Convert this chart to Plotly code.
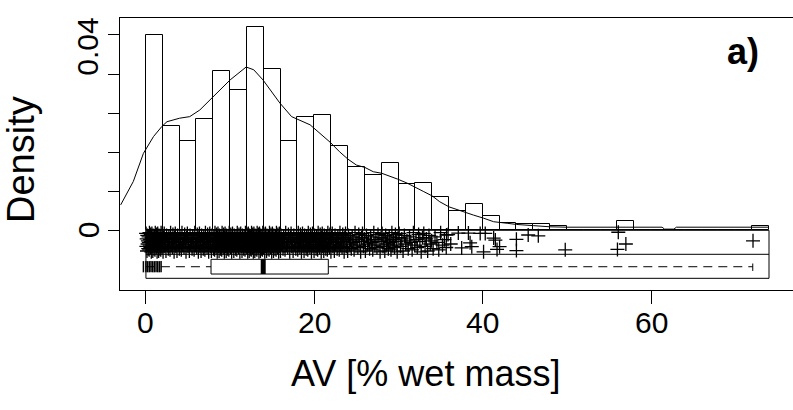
import plotly.graph_objects as go

# ---------------- data ----------------
bin_left = list(range(0, 74, 2))          # histogram bins of width 2 (0..74)
hist_density = [0.0501, 0.0266, 0.0228, 0.0285, 0.0408, 0.0358, 0.0520, 0.0414,
                0.0228, 0.0290, 0.0296, 0.0216, 0.0163, 0.0142, 0.0172, 0.0118,
                0.0122, 0.0086, 0.0050, 0.0067, 0.0037, 0.0019, 0.0017, 0.0017,
                0.0012, 0.0, 0.0, 0.0, 0.0025, 0.0, 0.0, 0.0, 0.0, 0.0, 0.0, 0.0,
                0.0012]

dens_x = [-3.0, -1.5, -0.3, 0.9, 1.9, 2.5, 4.0, 5.2, 6.4, 8.0, 10.0, 11.9, 12.8,
          13.9, 15.9, 17.3, 19.5, 21.9, 23.0, 24.0, 25.0, 26.0, 27.0, 28.0, 29.0,
          29.9, 31.0, 31.9, 33.0, 34.0, 34.9, 36.0, 37.7, 38.9, 40.1, 41.3, 42.9,
          44.0, 46.0, 48.0, 50.0, 52.0, 61.3, 61.6, 62.7, 63.0, 74.0]
dens_y = [0.0065, 0.0125, 0.0197, 0.0240, 0.0266, 0.0278, 0.0287, 0.0291, 0.0308,
          0.0343, 0.0385, 0.0418, 0.0411, 0.0385, 0.0326, 0.0291, 0.0270, 0.0225,
          0.0201, 0.0182, 0.0167, 0.0161, 0.0150, 0.0146, 0.0139, 0.0131, 0.0121,
          0.0112, 0.0099, 0.0088, 0.0073, 0.0060, 0.0047, 0.0039, 0.0031, 0.0022,
          0.0018, 0.0015, 0.0012, 0.0009, 0.0008, 0.0008, 0.0008, 0.0003, 0.0003,
          0.0008, 0.0008]

# rug: observations per 2-unit bin in the dense part (0..36), from the histogram
rug_bin_counts = [55, 29, 25, 31, 45, 39, 57, 46, 25, 32, 33, 24, 18, 16, 19, 13, 13, 9]
rug_jitter = [-0.0008, -0.0041, -0.0022, -0.0053, -0.0013, -0.0035, -0.0027,
              -0.0047, -0.0017, -0.0031, -0.0050, -0.0006, -0.0038, -0.0024,
              -0.0044, -0.0011, -0.0029, -0.0055, -0.0019]
# sparse rug points read individually
rug_sparse_x = [35.7, 36.2, 37.1, 37.5, 38.3, 38.5, 38.7, 39.7, 40.1, 40.3, 41.3,
                41.5, 41.7, 42.0, 44.0, 44.0, 45.4, 46.6, 49.8, 56.1, 56.0, 57.0, 72.1]
rug_sparse_y = [-0.0012, -0.0035, -0.0007, -0.0045, -0.0007, -0.0032, -0.0042,
                -0.0008, -0.0055, -0.0008, -0.0020, -0.0025, -0.0049, -0.0042,
                -0.0023, -0.0052, -0.0012, -0.0014, -0.0050, -0.0005, -0.0049,
                -0.0035, -0.0027]

box_names = ["min", "q1", "median", "q3", "max"]
box_stats = [0.0, 7.73, 13.93, 21.66, 72.07]
low_cluster_x = [-0.3, 0.0, 0.2, 0.4, 0.6, 0.8, 1.0, 1.2, 1.4, 1.6, 1.8]

x_tickvals = [0, 20, 40, 60]
x_ticktext = ["0", "20", "40", "60"]
y_tickvals = [0, 0.01, 0.02, 0.03, 0.04, 0.05]
y_labels = ["0", "0.04"]
y_label_pos = [0.0, 0.047]

# ---------------- geometry ----------------
XR = [-3.08, 76.85]
YR = [-0.01528, 0.05435]
RUG_TOP, RUG_MID, RUG_BOT = 0.0, -0.00614, -0.01229
BOX_TOP, BOX_BOT, BOX_MID = -0.00742, -0.01119, -0.00932

stats = dict(zip(box_names, box_stats))
FONT = "Liberation Sans, Arial, sans-serif"

fig = go.Figure()

# histogram bars
fig.add_trace(go.Bar(
    x=[b + 1 for b in bin_left], y=hist_density, width=2,
    marker=dict(color="rgba(0,0,0,0)", line=dict(color="black", width=1)),
    hoverinfo="skip", showlegend=False))

# density curve
fig.add_trace(go.Scatter(x=dens_x, y=dens_y, mode="lines",
                         line=dict(color="black", width=1), showlegend=False))

# rug points
rx, ry = [], []
k = 0
for b, c in enumerate(rug_bin_counts):
    for j in range(c):
        rx.append(2 * b + (j + 0.5) * 2.0 / c)
        ry.append(rug_jitter[k % len(rug_jitter)])
        k += 1
rx += rug_sparse_x
ry += rug_sparse_y
fig.add_trace(go.Scatter(x=rx, y=ry, mode="markers",
                         marker=dict(symbol="cross-thin", size=10, color="black",
                                     line=dict(color="black", width=1.3)),
                         showlegend=False))

# rug / boxplot panels
fig.add_shape(type="rect", x0=0, x1=74, y0=RUG_BOT, y1=RUG_TOP,
              line=dict(color="black", width=1), layer="above")
fig.add_shape(type="line", x0=0, x1=74, y0=RUG_MID, y1=RUG_MID,
              line=dict(color="black", width=1))

# boxplot
fig.add_trace(go.Scatter(x=[stats["min"], stats["q1"]], y=[BOX_MID, BOX_MID], mode="lines",
                         line=dict(color="black", width=1, dash="9px,6px"), showlegend=False))
fig.add_trace(go.Scatter(x=[stats["q3"], stats["max"]], y=[BOX_MID, BOX_MID], mode="lines",
                         line=dict(color="black", width=1, dash="9px,6px"), showlegend=False))
fig.add_trace(go.Scatter(x=[stats["q1"], stats["q3"], stats["q3"], stats["q1"], stats["q1"]],
                         y=[BOX_TOP, BOX_TOP, BOX_BOT, BOX_BOT, BOX_TOP], mode="lines",
                         fill="toself", fillcolor="white",
                         line=dict(color="black", width=1), showlegend=False))
fig.add_trace(go.Scatter(x=[stats["median"], stats["median"]], y=[BOX_TOP, BOX_BOT],
                         mode="lines", line=dict(color="black", width=5), showlegend=False))
fig.add_trace(go.Scatter(x=[stats["max"], stats["max"]], y=[-0.0085, -0.0104],
                         mode="lines", line=dict(color="black", width=1), showlegend=False))
fig.add_trace(go.Scatter(x=low_cluster_x, y=[BOX_MID] * len(low_cluster_x), mode="markers",
                         marker=dict(symbol="line-ns", size=8, color="black",
                                     line=dict(color="black", width=1.5)),
                         showlegend=False))

W, H = 793, 410
L, R, T, B = 120, 0, 18, 120
pw, ph = W - L - R, H - T - B


def px_x(p):
    return (p - L) / pw


def px_y(p):
    return (H - B - p) / ph


ann = []
for lab, pos in zip(y_labels, y_label_pos):
    ann.append(dict(text=lab, x=px_x(88), xref="paper", y=pos, yref="y",
                    textangle=-90, showarrow=False, xanchor="center", yanchor="middle",
                    font=dict(family=FONT, size=30, color="black")))
for lab, val in zip(x_ticktext, x_tickvals):
    ann.append(dict(text=lab, x=val, xref="x", y=px_y(322), yref="paper",
                    showarrow=False, xanchor="center", yanchor="middle",
                    font=dict(family=FONT, size=30, color="black")))
ann.append(dict(text="Density", x=px_x(21), y=px_y(160), xref="paper", yref="paper",
                textangle=-90, showarrow=False, xanchor="center", yanchor="middle",
                font=dict(family=FONT, size=38, color="black")))
ann.append(dict(text="AV [% wet mass]", x=px_x(425), y=px_y(373), xref="paper", yref="paper",
                showarrow=False, xanchor="center", yanchor="middle",
                font=dict(family=FONT, size=36, color="black")))
ann.append(dict(text="<b>a)</b>", x=px_x(743), y=px_y(51), xref="paper", yref="paper",
                showarrow=False, xanchor="center", yanchor="middle",
                font=dict(family=FONT, size=36, color="black")))

fig.update_layout(
    width=W, height=H, margin=dict(l=L, r=R, t=T, b=B),
    paper_bgcolor="white", plot_bgcolor="white", bargap=0, showlegend=False,
    annotations=ann,
    xaxis=dict(range=XR, showgrid=False, zeroline=False, showline=True, mirror=True,
               linecolor="black", linewidth=1, ticks="outside", ticklen=13,
               tickwidth=1, tickcolor="black", tickvals=x_tickvals, showticklabels=False),
    yaxis=dict(range=YR, showgrid=False, zeroline=False, showline=True, mirror=False,
               linecolor="black", linewidth=1, ticks="outside", ticklen=11,
               tickwidth=1, tickcolor="black", tickvals=y_tickvals, showticklabels=False),
)

fig.write_html("out.html")
